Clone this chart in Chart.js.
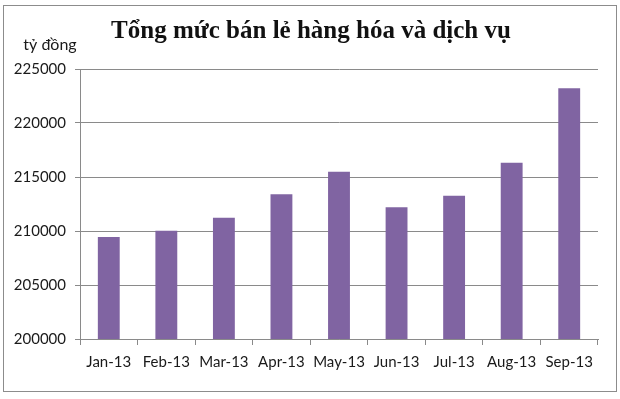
<!DOCTYPE html>
<html>
<head>
<meta charset="utf-8">
<script src="https://cdn.jsdelivr.net/npm/chart.js@4/dist/chart.umd.min.js"></script>
<style>
  html, body { margin: 0; padding: 0; background: #fff; }
  #wrap { width: 620px; height: 399px; }
</style>
</head>
<body>
<div id="wrap"><canvas id="retailChart" width="620" height="399"></canvas></div>
<script>
// Данные
var months = ["Jan-13", "Feb-13", "Mar-13", "Apr-13", "May-13", "Jun-13", "Jul-13", "Aug-13", "Sep-13"];
var retailValues = [209450, 210030, 211230, 213400, 215490, 212190, 213260, 216320, 223210];
var titleText = "Tổng mức bán lẻ hàng hóa và dịch vụ";
var unitText = "tỷ đồng";

var gray = "#8a8a8a";

// Рамка, заголовок и подпись единиц
var framePlugin = {
    id: "frame",
    beforeDraw: function (chart) {
        var ctx = chart.ctx;
        ctx.save();
        ctx.fillStyle = "#ffffff";
        ctx.fillRect(0, 0, chart.width, chart.height);
        ctx.strokeStyle = "#8c8c8c";
        ctx.lineWidth = 1;
        ctx.strokeRect(3.5, 5.5, 613, 386);
        ctx.restore();
    },
    afterDraw: function (chart) {
        var ctx = chart.ctx;
        ctx.save();
        ctx.textAlign = "center";
        ctx.textBaseline = "middle";
        ctx.fillStyle = "#111";
        ctx.font = "bold 25px 'Liberation Serif'";
        ctx.fillText(titleText, 311, 32);
        ctx.fillStyle = "#1a1a1a";
        ctx.font = "16px Lato";
        ctx.fillText(unitText, 50, 45);
        ctx.restore();
    }
};

var ctx = document.getElementById("retailChart").getContext("2d");
var retailChart = new Chart(ctx, {
    type: "bar",
    data: {
        labels: months,
        datasets: [{
            label: unitText,
            data: retailValues,
            backgroundColor: "#8064A2",
            borderWidth: 0,
            barPercentage: 0.38,
            categoryPercentage: 1.0
        }]
    },
    plugins: [framePlugin],
    options: {
        responsive: false,
        animation: false,
        layout: { padding: { left: 0, right: 22, top: 69, bottom: 8 } },
        plugins: {
            legend: { display: false },
            tooltip: { enabled: false },
            title: { display: false }
        },
        scales: {
            x: {
                afterFit: function (s) { s.height = 52; },
                border: { color: gray },
                grid: { display: true, drawOnChartArea: false, drawTicks: true, tickLength: 6, color: gray, offset: true },
                ticks: { color: "#1a1a1a", padding: 8, maxRotation: 0, font: { family: "Lato", size: 15 } }
            },
            y: {
                min: 200000,
                max: 225000,
                afterFit: function (s) { s.width = 80; },
                border: { color: gray },
                grid: { color: gray, tickLength: 5 },
                ticks: {
                    stepSize: 5000,
                    color: "#1a1a1a",
                    padding: 9,
                    font: { family: "Lato", size: 15 },
                    callback: function (v) { return String(v); }
                }
            }
        }
    }
});
</script>
</body>
</html>
